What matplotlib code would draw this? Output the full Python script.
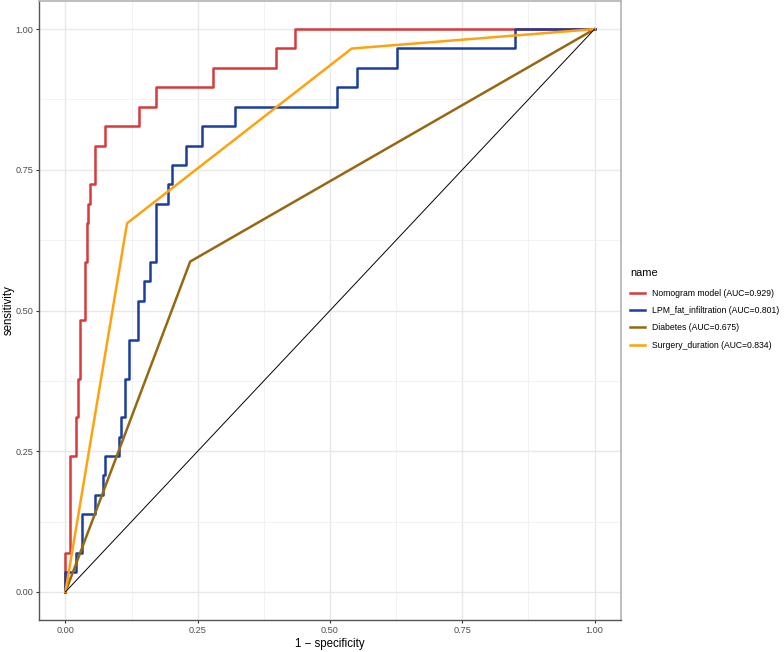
import matplotlib
matplotlib.use('Agg')
import matplotlib.pyplot as plt
from matplotlib.ticker import MultipleLocator
from matplotlib.lines import Line2D

plt.rcParams['font.family'] = ['Liberation Sans', 'DejaVu Sans']

# ---- data ----
# step curves: x = position of each vertical rise, y = level reached (steps-post)
nomo_fpr = [0, 0, 0.0094, 0.0208, 0.0240, 0.0283, 0.0364, 0.0400, 0.0434, 0.0472,
            0.0553, 0.0742, 0.1396, 0.1710, 0.2787, 0.3980, 0.4330, 1.0]
nomo_tpr = [0, 0.069, 0.241, 0.310, 0.379, 0.483, 0.586, 0.655, 0.690, 0.724,
            0.793, 0.828, 0.862, 0.897, 0.931, 0.966, 1.0, 1.0]

lpm_fpr = [0, 0, 0.0208, 0.0315, 0.0553, 0.0705, 0.0742, 0.1006, 0.1045, 0.1132,
           0.1208, 0.1365, 0.1480, 0.1590, 0.1717, 0.1936, 0.2013, 0.2283, 0.2590,
           0.3208, 0.5138, 0.5515, 0.6258, 0.8497, 1.0]
lpm_tpr = [0, 0.0345, 0.069, 0.138, 0.172, 0.207, 0.241, 0.276, 0.310, 0.379,
           0.448, 0.517, 0.552, 0.586, 0.690, 0.724, 0.759, 0.793, 0.828,
           0.862, 0.897, 0.931, 0.966, 1.0, 1.0]

diab_fpr = [0, 0.2358, 1.0]
diab_tpr = [0, 0.587, 1.0]

surg_fpr = [0, 0.1164, 0.541, 1.0]
surg_tpr = [0, 0.655, 0.9655, 1.0]

labels = ["Nomogram model (AUC=0.929)", "LPM_fat_infiltration (AUC=0.801)",
          "Diabetes (AUC=0.675)", "Surgery_duration (AUC=0.834)"]
colors = ["#D63A3A", "#1A3D9E", "#96680F", "#FFA210"]

ticks = [0.00, 0.25, 0.50, 0.75, 1.00]
tick_labels = ["0.00", "0.25", "0.50", "0.75", "1.00"]

# ---- figure ----
W, H = 784, 652
fig = plt.figure(figsize=(W / 100, H / 100), dpi=100)
ax = fig.add_axes([39 / W, 32 / H, 582 / W, 619 / H])

lw = 1.8
ax.plot(nomo_fpr, nomo_tpr, drawstyle='steps-post', color=colors[0], lw=lw, label=labels[0])
ax.plot(lpm_fpr, lpm_tpr, drawstyle='steps-post', color=colors[1], lw=lw, label=labels[1])
ax.plot(diab_fpr, diab_tpr, color=colors[2], lw=lw, label=labels[2])
ax.plot(surg_fpr, surg_tpr, color=colors[3], lw=lw, label=labels[3])
ax.plot([0, 1], [0, 1], color='black', lw=0.7, zorder=3)

ax.set_xlim(-0.05, 1.05)
ax.set_ylim(-0.05, 1.05)
ax.set_xticks(ticks)
ax.set_xticklabels(tick_labels)
ax.set_yticks(ticks)
ax.set_yticklabels(tick_labels)
ax.xaxis.set_minor_locator(MultipleLocator(0.125))
ax.yaxis.set_minor_locator(MultipleLocator(0.125))
ax.grid(which='major', color='#e8e8e8', lw=1.0)
ax.grid(which='minor', color='#f0f0f0', lw=0.6)
ax.set_axisbelow(True)

for s in ['top', 'right']:
    ax.spines[s].set_color('#b3b3b3')
    ax.spines[s].set_linewidth(1.2)
for s in ['left', 'bottom']:
    ax.spines[s].set_color('#555555')
    ax.spines[s].set_linewidth(1.0)

ax.tick_params(which='major', length=2.5, width=0.8, color='#333333',
               labelsize=6.6, labelcolor='#4d4d4d', pad=1.5)
ax.tick_params(which='minor', length=0)

ax.set_xlabel('1 \u2212 specificity', fontsize=8.3, labelpad=2.5)
ax.set_ylabel('sensitivity', fontsize=8.3, labelpad=0.8)

handles = [Line2D([], [], color=c, lw=lw) for c in colors]
leg = fig.legend(handles, labels, loc='upper left',
                 bbox_to_anchor=(630 / W, 1 - 268 / H), frameon=False,
                 title='name', alignment='left', fontsize=6.2, title_fontsize=7.9,
                 handlelength=1.7, handletextpad=0.8, labelspacing=0.95,
                 borderpad=0, borderaxespad=0)
leg._legend_box.sep = 8

fig.savefig('out.png', dpi=100)
